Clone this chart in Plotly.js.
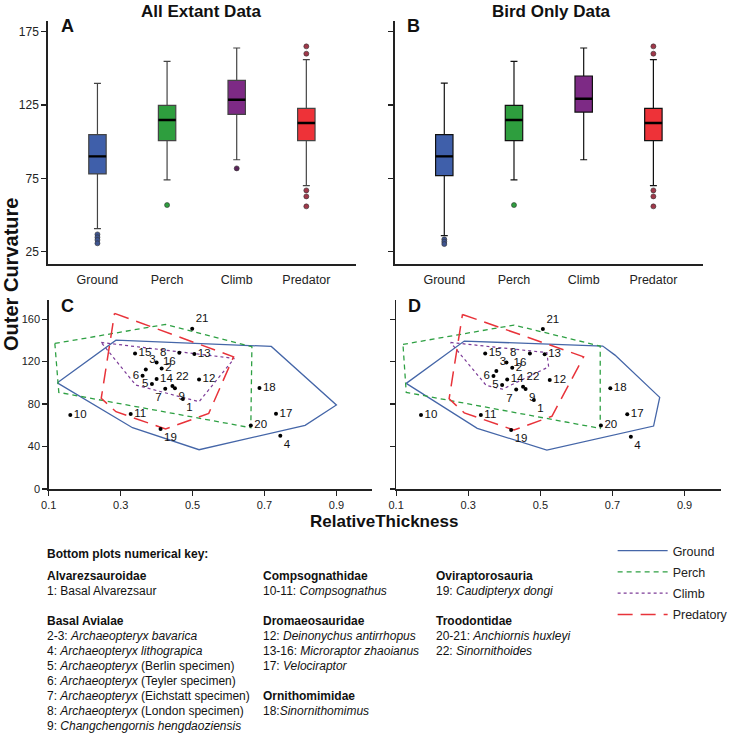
<!DOCTYPE html>
<html>
<head>
<meta charset="utf-8">
<script src="https://cdn.plot.ly/plotly-3.0.1.min.js"></script>
<style>html,body{margin:0;padding:0;background:#fff;}#chart{width:733px;height:736px;}</style>
</head>
<body>
<div id="chart"></div>
<script>
// ---------- DATA ----------
const categories = ['Ground', 'Perch', 'Climb', 'Predator'];
const boxColors = ['#3F5FAA', '#2E9E3E', '#7D2A85', '#EE3238'];
const outlierColors = ['#3F5590', '#2E9E3E', '#5A2558', '#A0384A'];

// Panel A: All extant data
const A_q1 = [78, 100.7, 118.6, 100.7];
const A_median = [90, 114.8, 128.6, 112.7];
const A_q3 = [104.8, 124.8, 141.8, 122.7];
const A_lowerfence = [40.7, 73.9, 87.7, 70];
const A_upperfence = [139.8, 154.8, 163.9, 155.9];
const A_outliers = [[36.8, 34.8, 33.0, 30.7], [56.8], [81.8], [165, 160, 66.8, 62.7, 55.9]];

// Panel B: Bird only data
const B_q1 = [76.8, 100.7, 120.2, 100.7];
const B_median = [90, 114.8, 129.3, 112.7];
const B_q3 = [104.8, 124.8, 144.8, 122.7];
const B_lowerfence = [36, 73.9, 87.7, 70];
const B_upperfence = [140, 154.8, 163.9, 155.9];
const B_outliers = [[33.4, 31.8, 30.2], [56.8], [], [165, 160, 66.8, 62.7, 55.9]];

// Panels C & D: fossil points (label = index+1)
const pointLabels = ['1','2','3','4','5','6','7','8','9','10','11','12','13','14','15','16','17','18','19','20','21','22'];
const labelPositions = ['bottom right','middle right','top right','bottom right','middle left','middle left','bottom left',
  'top right','bottom right','middle right','middle right','middle right','middle right','middle right','middle right',
  'bottom left','middle right','middle right','bottom right','middle right','top right','top right'];
const C_thickness = [0.473,0.414,0.370,0.744,0.387,0.361,0.424,0.400,0.451,0.160,0.328,0.518,0.505,0.400,0.340,0.463,0.732,0.686,0.411,0.662,0.499,0.444];
const C_curvature = [84.7,113.6,112.6,50.2,98.8,106.6,94.4,119.2,94.8,69.6,70.6,103.2,127.1,103.5,127.7,128.3,70.9,95.1,56.5,59.9,150.9,96.9];
const D_thickness = [0.482,0.422,0.378,0.751,0.394,0.370,0.433,0.406,0.459,0.169,0.335,0.526,0.512,0.408,0.347,0.471,0.741,0.694,0.419,0.668,0.507,0.452];
const D_curvature = [83.8,114.2,111.1,49.2,97.9,106.4,93.8,119.2,94.1,69.6,69.6,102.6,126.8,103.2,127.7,127.7,70.3,94.9,55.5,59.7,150.6,96.3];

// Convex hull polygons (closed)
const hullNames = ['Ground', 'Perch', 'Climb', 'Predatory'];
const C_hull_x = [
  [0.124,0.287,0.719,0.900,0.813,0.518,0.333,0.124],
  [0.117,0.425,0.665,0.662,0.128,0.117],
  [0.246,0.616,0.518,0.342,0.246],
  [0.283,0.614,0.545,0.425,0.287,0.246,0.283]
];
const C_hull_y = [
  [100,140.2,134.3,79.1,59.9,37,57.7,100],
  [137.1,155,134,57.7,91,137.1],
  [138,123,82.2,97.9,138],
  [165.4,124.5,71.2,56.5,72.8,85.4,165.4]
];
const D_hull_x = [
  [0.128,0.289,0.673,0.707,0.831,0.814,0.518,0.325,0.128],
  [0.119,0.427,0.666,0.666,0.128,0.119],
  [0.251,0.518,0.523,0.395,0.350,0.251],
  [0.284,0.620,0.532,0.427,0.289,0.247,0.284]
];
const D_hull_y = [
  [99.5,139.3,134.6,126.1,86.3,59.3,36.7,57.1,99.5],
  [136.2,154.4,134.6,57.1,91,136.2],
  [138,128.5,115,94,97.5,138],
  [164.4,124.5,68.5,55.5,71.7,85,164.4]
];

// Key text
const keyCol1 = ['<b>Bottom plots numerical key:</b>', '<b>Alvarezsauroidae</b>', '1: Basal Alvarezsaur',
  '<b>Basal Avialae</b>', '2-3: <i>Archaeopteryx bavarica</i>', '4: <i>Archaeopteryx lithograpica</i>',
  '5: <i>Archaeopteryx</i> (Berlin specimen)', '6: <i>Archaeopteryx</i> (Teyler specimen)',
  '7: <i>Archaeopteryx</i> (Eichstatt specimen)', '8: <i>Archaeopteryx</i> (London specimen)',
  '9: <i>Changchengornis hengdaoziensis</i>'];
const keyCol2 = ['<b>Compsognathidae</b>', '10-11: <i>Compsognathus</i>', '<b>Dromaeosauridae</b>',
  '12: <i>Deinonychus antirrhopus</i>', '13-16: <i>Microraptor zhaoianus</i>', '17: <i>Velociraptor</i>',
  '<b>Ornithomimidae</b>', '18:<i>Sinornithomimus</i>'];
const keyCol3 = ['<b>Oviraptorosauria</b>', '19: <i>Caudipteryx dongi</i>', '<b>Troodontidae</b>',
  '20-21: <i>Anchiornis huxleyi</i>', '22: <i>Sinornithoides</i>'];

// ---------- LAYOUT POSITIONS (pixels) ----------
const keyCol1Y = [554, 576, 591, 621, 636, 651, 665.5, 680.5, 695.5, 710.5, 725.5];
const keyCol2Y = [575.5, 591, 621, 636, 651, 666, 696, 711];
const keyCol3Y = [575.5, 591, 621, 636, 651];

// ---------- BUILD ----------
const W = 733, H = 736;
const FONT = 'Liberation Sans, Arial, sans-serif';
const px = v => v / W;
const py = v => 1 - v / H;
const BOXW = 0.25;

const data = [];
function addBoxes(xa, ya, q1, med, q3, lo, hi, outs, lineCol) {
  for (let i = 0; i < categories.length; i++) {
    data.push({
      type: 'box', xaxis: xa, yaxis: ya, x: [i], q1: [q1[i]], median: [med[i]], q3: [q3[i]],
      lowerfence: [lo[i]], upperfence: [hi[i]], width: BOXW, whiskerwidth: 0.4,
      fillcolor: boxColors[i], line: {color: lineCol, width: 1.2}, boxpoints: false,
      showlegend: false, hoverinfo: 'skip'
    });
    data.push({
      type: 'scatter', mode: 'lines', xaxis: xa, yaxis: ya,
      x: [i - BOXW / 2, i + BOXW / 2], y: [med[i], med[i]],
      line: {color: '#000', width: 2.4}, showlegend: false, hoverinfo: 'skip'
    });
    if (outs[i].length) {
      data.push({
        type: 'scatter', mode: 'markers', xaxis: xa, yaxis: ya,
        x: outs[i].map(() => i), y: outs[i],
        marker: {size: 5, color: outlierColors[i], line: {color: '#333', width: 0.6}},
        showlegend: false, hoverinfo: 'skip'
      });
    }
  }
}
addBoxes('x', 'y', A_q1, A_median, A_q3, A_lowerfence, A_upperfence, A_outliers, '#444');
addBoxes('x2', 'y2', B_q1, B_median, B_q3, B_lowerfence, B_upperfence, B_outliers, '#111');

const hullStyles = [
  {color: '#4566A8', width: 1.3, dash: 'solid'},
  {color: '#2EA043', width: 1.3, dash: '5px,4px'},
  {color: '#7D3C98', width: 1.2, dash: 'dot'},
  {color: '#E8333A', width: 1.5, dash: '15px,8px'}
];
function addHulls(xa, ya, hx, hy, legend) {
  for (let k = 0; k < hullNames.length; k++) {
    data.push({
      type: 'scatter', mode: 'lines', xaxis: xa, yaxis: ya, x: hx[k], y: hy[k],
      name: hullNames[k], legendgroup: 'g' + k, line: hullStyles[k], showlegend: legend, hoverinfo: 'skip'
    });
  }
}
addHulls('x3', 'y3', C_hull_x, C_hull_y, true);
addHulls('x4', 'y4', D_hull_x, D_hull_y, false);

function addPoints(xa, ya, xs, ys) {
  data.push({
    type: 'scatter', mode: 'markers+text', xaxis: xa, yaxis: ya, x: xs, y: ys,
    text: pointLabels, textposition: labelPositions,
    textfont: {family: FONT, size: 11.5, color: '#111'},
    marker: {size: 4, color: '#000'}, showlegend: false, hoverinfo: 'skip', cliponaxis: false
  });
}
addPoints('x3', 'y3', C_thickness, C_curvature);
addPoints('x4', 'y4', D_thickness, D_curvature);

const axBase = {
  showgrid: false, zeroline: false, showline: true, linecolor: '#222', linewidth: 1.5,
  ticks: 'outside', ticklen: 5, tickwidth: 1.2, tickcolor: '#222',
  tickfont: {family: FONT, size: 11, color: '#222'}, fixedrange: true
};
const catAxis = Object.assign({}, axBase, {
  range: [-0.714, 3.714], tickvals: [0, 1, 2, 3], ticktext: categories,
  tickcolor: 'rgba(0,0,0,0)', ticklen: 3, tickfont: {family: FONT, size: 12.5, color: '#222'}
});
const boxY = Object.assign({}, axBase, {range: [16.6, 182.3], tickvals: [25, 75, 125, 175], tickfont: {family: FONT, size: 12, color: '#222'}});
const hullX = Object.assign({}, axBase, {range: [0.1, 1.0], tickvals: [0.1, 0.3, 0.5, 0.7, 0.9], ticktext: ['0.1','0.3','0.5','0.7','0.9']});
const hullY = Object.assign({}, axBase, {range: [0, 178], tickvals: [0, 40, 80, 120, 160]});

const layout = {
  width: W, height: H, margin: {l: 0, r: 0, t: 0, b: 0},
  paper_bgcolor: '#fff', plot_bgcolor: 'rgba(0,0,0,0)',
  font: {family: FONT, color: '#111'},
  xaxis: Object.assign({}, catAxis, {domain: [px(48), px(358)], anchor: 'y'}),
  yaxis: Object.assign({}, boxY, {domain: [py(264), py(21)], anchor: 'x'}),
  xaxis2: Object.assign({}, catAxis, {domain: [px(396.7), px(707)], anchor: 'y2'}),
  yaxis2: Object.assign({}, boxY, {domain: [py(264), py(21)], anchor: 'x2', showticklabels: false}),
  xaxis3: Object.assign({}, hullX, {domain: [px(49), px(374.4)], anchor: 'y3'}),
  yaxis3: Object.assign({}, hullY, {domain: [py(489), py(300)], anchor: 'x3'}),
  xaxis4: Object.assign({}, hullX, {domain: [px(398.3), px(724.6)], anchor: 'y4'}),
  yaxis4: Object.assign({}, hullY, {domain: [py(489), py(300)], anchor: 'x4', showticklabels: false}),
  showlegend: true,
  legend: {
    x: px(616), y: py(536), xanchor: 'left', yanchor: 'top',
    font: {family: FONT, size: 12.5, color: '#222'}, bgcolor: 'rgba(0,0,0,0)',
    tracegroupgap: 2, itemwidth: 50, itemclick: false
  },
  annotations: []
};

const ann = layout.annotations;
function addText(text, x, y, size, opts) {
  ann.push(Object.assign({
    text: text, x: px(x), y: py(y), xref: 'paper', yref: 'paper', showarrow: false,
    xanchor: 'center', yanchor: 'middle', font: {family: FONT, size: size, color: '#111'}
  }, opts || {}));
}
addText('<b>All Extant Data</b>', 203, 11, 17);
addText('<b>Bird Only Data</b>', 555, 11, 17);
addText('<b>A</b>', 67.5, 26, 18);
addText('<b>B</b>', 416, 26, 18);
addText('<b>C</b>', 68, 306, 18);
addText('<b>D</b>', 416.5, 306, 18);
addText('<b>Outer Curvature</b>', 11, 274, 20, {textangle: -90});
addText('<b>RelativeThickness</b>', 386, 521, 17);

function addColumn(lines, ys, x) {
  lines.forEach((t, i) => addText(t, x, ys[i], 12, {xanchor: 'left', align: 'left'}));
}
addColumn(keyCol1, keyCol1Y, 45);
addColumn(keyCol2, keyCol2Y, 262);
addColumn(keyCol3, keyCol3Y, 436.5);

Plotly.newPlot('chart', data, layout, {staticPlot: true, displayModeBar: false});
</script>
</body>
</html>
